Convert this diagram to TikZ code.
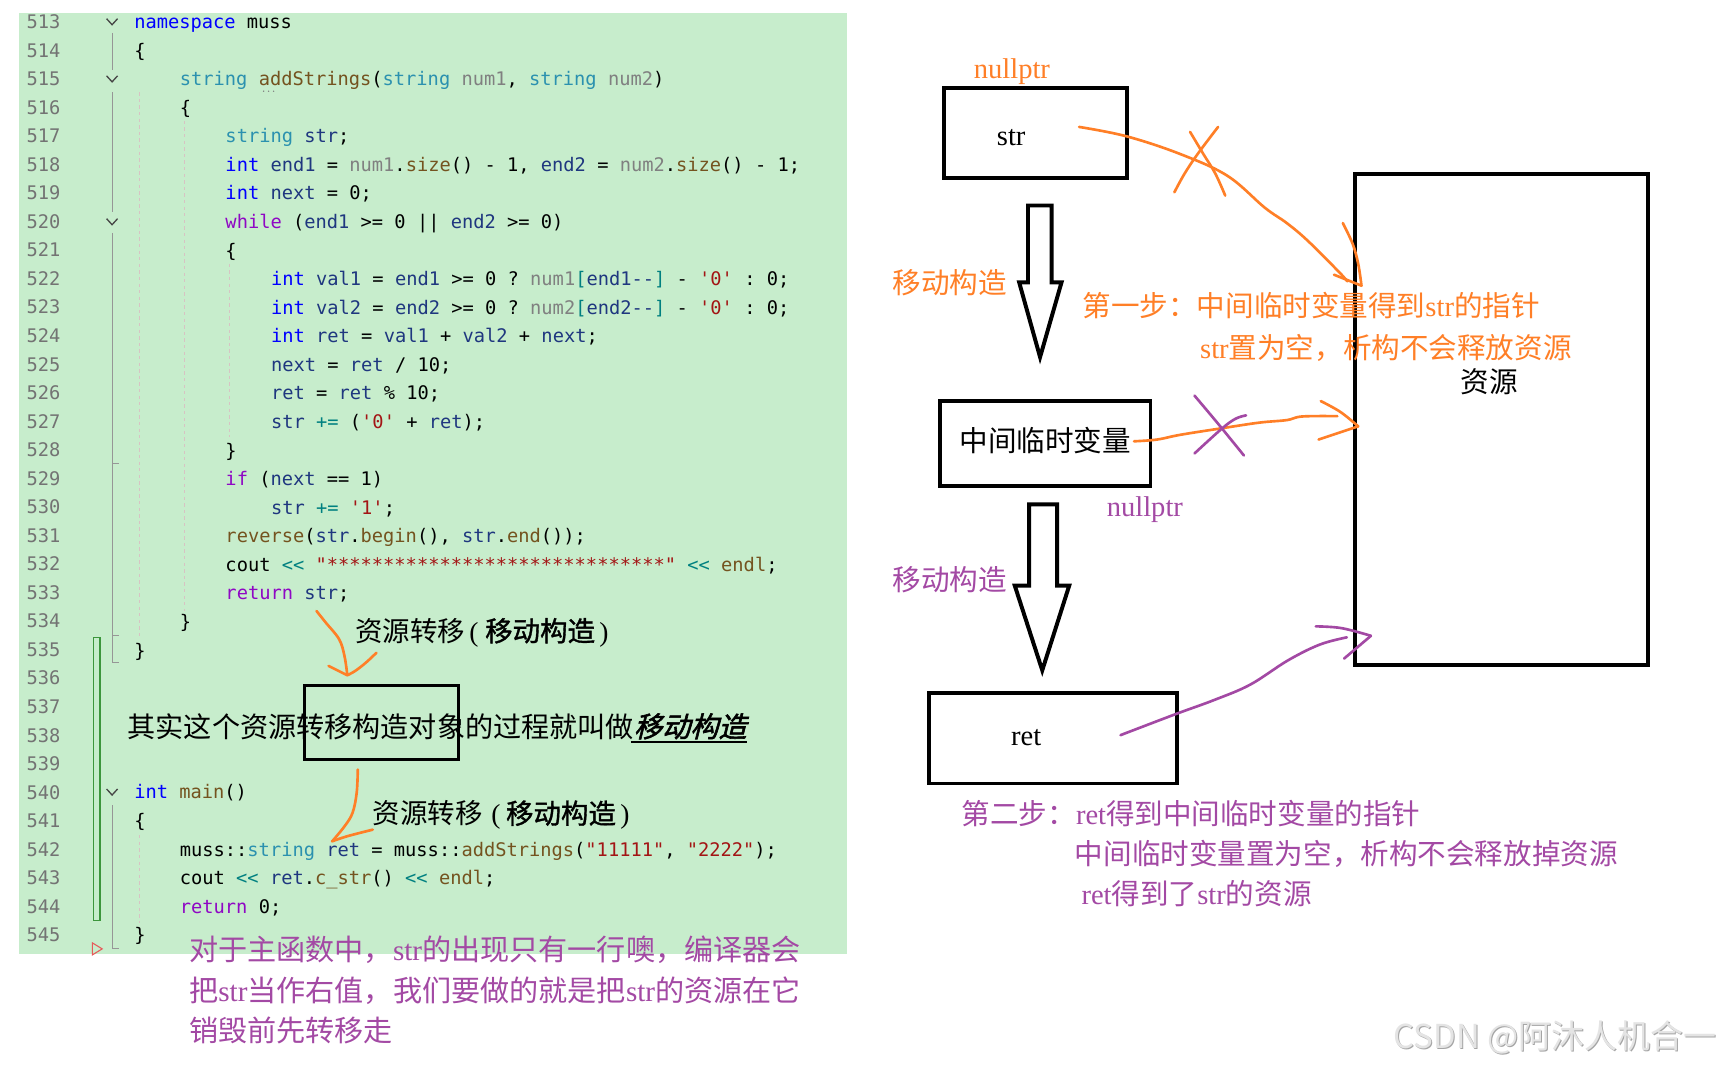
\documentclass[tikz,border=0pt]{standalone}
\usepackage{fontspec}
\setmonofont{DejaVu Sans Mono}
\newfontfamily\cjk{Noto Sans CJK SC}
\newfontfamily\cjkb{Noto Sans CJK SC}[FakeBold=1.3]
\newfontfamily\cjkit{Noto Sans CJK SC}[FakeSlant=0.25,FakeBold=2]
\newfontfamily\tms{Liberation Serif}
\definecolor{bggreen}{RGB}{199,237,204}
\definecolor{orng}{RGB}{255,127,39}
\definecolor{purp}{RGB}{163,73,164}
\definecolor{lngray}{RGB}{115,115,115}
\definecolor{ckwc}{RGB}{0,0,255}
\definecolor{ctyc}{RGB}{43,145,175}
\definecolor{cfnc}{RGB}{116,83,31}
\definecolor{cpac}{RGB}{128,128,128}
\definecolor{cloc}{RGB}{31,55,127}
\definecolor{cctc}{RGB}{143,8,196}
\definecolor{cstc}{RGB}{163,21,21}
\definecolor{copc}{RGB}{0,128,128}
\newcommand\ckw[1]{\textcolor{ckwc}{#1}}
\newcommand\cty[1]{\textcolor{ctyc}{#1}}
\newcommand\cfn[1]{\textcolor{cfnc}{#1}}
\newcommand\cpa[1]{\textcolor{cpac}{#1}}
\newcommand\clo[1]{\textcolor{cloc}{#1}}
\newcommand\cct[1]{\textcolor{cctc}{#1}}
\newcommand\cst[1]{\textcolor{cstc}{#1}}
\newcommand\cop[1]{\textcolor{copc}{#1}}
\newcommand\latn[1]{{\tms #1}}
\begin{document}
\begin{tikzpicture}[x=1pt,y=-1pt,
  code/.style={font=\ttfamily\fontsize{17.03}{20}\selectfont, inner sep=0pt, anchor=base west},
  lnum/.style={code, text=lngray},
  cjkt/.style={font=\cjk\fontsize{26}{30}\selectfont, inner sep=0pt, anchor=base west},
  tmst/.style={font=\tms\fontsize{26}{30}\selectfont, inner sep=0pt, anchor=base west},
  boxn/.style={draw, line width=3.6pt, inner sep=0pt},
  ostroke/.style={draw=orng, line width=2.4pt, line cap=round, line join=round},
  pstroke/.style={draw=purp, line width=2.4pt, line cap=round, line join=round},
  guide/.style={draw={rgb,255:red,150;green,150;blue,150}, line width=1pt},
  dguide/.style={draw={rgb,255:red,215;green,195;blue,195}, line width=0.8pt, dash pattern=on 3pt off 3pt},
  chev/.style={draw={rgb,255:red,70;green,70;blue,70}, line width=1.2pt}
]
\useasboundingbox (0,0) rectangle (1568,970);
\fill[white] (0,0) rectangle (1568,970);
% code panel
\fill[bggreen] (17,12) rectangle (771,868);
\draw[guide] (102.5,30) -- (102.5,64);
\draw[guide] (102.5,84) -- (102.5,193);
\draw[guide] (102.5,212) -- (102.5,603) -- (108,603);
\draw[guide] (102.5,422) -- (108,422);
\draw[guide] (102.5,578) -- (108,578);
\draw[guide] (102.5,733) -- (102.5,863) -- (108,863);
\draw[dguide] (127,84) -- (127,580);
\draw[dguide] (168,110) -- (168,556);
\draw[dguide] (209,240) -- (209,398);
\draw[dguide] (127,760) -- (127,840);
\foreach \yy in {20,72,202,721} \draw[chev] (97,\yy-3) -- (102,\yy+2.5) -- (107,\yy-3);
\draw[draw={rgb,255:red,60;green,150;blue,60}, line width=1pt] (85,580) rectangle (91,838);
\draw[draw={rgb,255:red,230;green,90;blue,90}, line width=1pt] (84,858) -- (93,863.5) -- (84,869) -- cycle;
\foreach \n in {513,...,545} \node[lnum] (ln\n) at (24,{20+(\n-513)*25.97+6}) {\n};
\node[code] (c513) at (122,26) {\ckw{namespace} muss};
\node[code] (c514) at (122,52) {\{};
\node[code] (c515) at (163.5,78) {\cty{string} \cfn{addStrings}(\cty{string} \cpa{num1}, \cty{string} \cpa{num2})};
\foreach \dx in {240,244.5,249} \fill[cpac] (\dx,83) circle (0.7);
\node[code] (c516) at (163.5,104) {\{};
\node[code] (c517) at (205,130) {\cty{string} \clo{str};};
\node[code] (c518) at (205,156) {\ckw{int} \clo{end1} = \cpa{num1}.\cfn{size}() - 1, \clo{end2} = \cpa{num2}.\cfn{size}() - 1;};
\node[code] (c519) at (205,182) {\ckw{int} \clo{next} = 0;};
\node[code] (c520) at (205,208) {\cct{while} (\clo{end1} >= 0 || \clo{end2} >= 0)};
\node[code] (c521) at (205,234) {\{};
\node[code] (c522) at (246.5,260) {\ckw{int} \clo{val1} = \clo{end1} >= 0 ? \cpa{num1}\cop{[}\clo{end1--}\cop{]} - \cst{'0'} : 0;};
\node[code] (c523) at (246.5,286) {\ckw{int} \clo{val2} = \clo{end2} >= 0 ? \cpa{num2}\cop{[}\clo{end2--}\cop{]} - \cst{'0'} : 0;};
\node[code] (c524) at (246.5,312) {\ckw{int} \clo{ret} = \clo{val1} + \clo{val2} + \clo{next};};
\node[code] (c525) at (246.5,338) {\clo{next} = \clo{ret} / 10;};
\node[code] (c526) at (246.5,364) {\clo{ret} = \clo{ret} \% 10;};
\node[code] (c527) at (246.5,390) {\clo{str} \cop{+=} (\cst{'0'} + \clo{ret});};
\node[code] (c528) at (205,416) {\}};
\node[code] (c529) at (205,442) {\cct{if} (\clo{next} == 1)};
\node[code] (c530) at (246.5,468) {\clo{str} \cop{+=} \cst{'1'};};
\node[code] (c531) at (205,494) {\cfn{reverse}(\clo{str}.\cfn{begin}(), \clo{str}.\cfn{end}());};
\node[code] (c532) at (205,520) {cout \cop{<<} \cst{"******************************"} \cop{<<} \cfn{endl};};
\node[code] (c533) at (205,546) {\cct{return} \clo{str};};
\node[code] (c534) at (163.5,572) {\}};
\node[code] (c535) at (122,598) {\}};
\node[code] (c540) at (122,727) {\ckw{int} \cfn{main}()};
\node[code] (c541) at (122,753) {\{};
\node[code] (c542) at (163.5,779) {muss::\cty{string} \clo{ret} = muss::\cfn{addStrings}(\cst{"11111"}, \cst{"2222"});};
\node[code] (c543) at (163.5,805) {cout \cop{<<} \clo{ret}.\cfn{c\_str}() \cop{<<} \cfn{endl};};
\node[code] (c544) at (163.5,831) {\cct{return} 0;};
\node[code] (c545) at (122,857) {\}};
% code annotations
\node[font=\cjk\fontsize{25}{29}\selectfont, inner sep=0pt, anchor=base west] (an1) at (323,583.5) {资源转移\hspace{4pt}\latn{(}\hspace{6pt}{\cjkb 移动构造}\hspace{4pt}\latn{)}};
\node[font=\cjk\fontsize{25.6}{29}\selectfont, inner sep=0pt, anchor=base west] (expl) at (116,670.7) {其实这个资源转移构造对象的过程就叫做{\cjkit 移动构造}};
\draw[line width=2pt] (574,675) -- (680,675);
\node[draw, line width=3pt, minimum width=140, minimum height=67, inner sep=0pt] (codebox) at (347,657.5) {};
\node[font=\cjk\fontsize{25}{29}\selectfont, inner sep=0pt, anchor=base west] (an2) at (339,749.5) {资源转移\hspace{8pt}\latn{(}\hspace{5pt}{\cjkb 移动构造}\hspace{4pt}\latn{)}};
\draw[ostroke] plot[smooth, tension=0.6] coordinates {(288,556) (296.4,566.5) (308.6,581.7) (313.5,597) (316,614)};
\draw[ostroke] (299,606) -- (316,614.5);
\draw[ostroke] plot[smooth, tension=0.6] coordinates {(342.6,594) (333,603) (323.2,610.6) (316,614.5)};
\draw[ostroke] plot[smooth, tension=0.6] coordinates {(325.6,700.3) (324.6,721.5) (320.8,739.8) (313.5,752) (302.3,765.6)};
\draw[ostroke] plot[smooth, tension=0.6] coordinates {(302.3,765.6) (316,761) (339.2,755)};
\node[font=\cjk\fontsize{26.5}{30}\selectfont, text=purp, inner sep=0pt, anchor=base west] (p1) at (172,874) {对于主函数中，\latn{str}的出现只有一行噢，编译器会};
\node[font=\cjk\fontsize{26.5}{30}\selectfont, text=purp, inner sep=0pt, anchor=base west] (p2) at (172,911) {把\latn{str}当作右值，我们要做的就是把\latn{str}的资源在它};
\node[font=\cjk\fontsize{26.5}{30}\selectfont, text=purp, inner sep=0pt, anchor=base west] (p3) at (172,948) {销毁前先转移走};
% right diagram
\node[boxn, minimum width=167, minimum height=82] (strbox) at (942.5,121) {};
\node[boxn, minimum width=192, minimum height=77] (tmpbox) at (951,403.5) {};
\node[boxn, minimum width=226, minimum height=82] (retbox) at (958,672) {};
\node[boxn, minimum width=267, minimum height=447] (resbox) at (1366.5,381.5) {};
\draw[line width=3.6pt, line join=miter] (935.5,187) -- (957,187) -- (957,257) -- (966,257) -- (946.5,325) -- (927.5,257) -- (935.5,257) -- cycle;
\draw[line width=3.6pt, line join=miter] (936.5,459) -- (962,459) -- (962,533) -- (973,533) -- (948.5,610) -- (923.5,533) -- (936.5,533) -- cycle;
\node[tmst, text=orng] (np1) at (886,71) {nullptr};
\node[tmst] (strt) at (907,132) {str};
\node[cjkt, text=orng] (mv1) at (812,267) {移动构造};
\node[cjkt, text=orng] (s1a) at (985,288) {第一步：中间临时变量得到\latn{str}的指针};
\node[cjkt, text=orng] (s1b) at (1092,326) {\latn{str}置为空，析构不会释放资源};
\node[cjkt] (rest) at (1329,357) {资源};
\node[cjkt] (tmpt) at (873,411) {中间临时变量};
\node[tmst, text=purp] (np2) at (1007,470) {nullptr};
\node[cjkt, text=purp] (mv2) at (812,537) {移动构造};
\node[tmst] (rett) at (920,678) {ret};
\node[cjkt, text=purp] (s2a) at (875,750) {第二步：\latn{ret}得到中间临时变量的指针};
\node[cjkt, text=purp] (s2b) at (978,787) {中间临时变量置为空，析构不会释放掉资源};
\node[cjkt, text=purp] (s2c) at (984,823) {\latn{ret}得到了\latn{str}的资源};
% scribbles
\draw[ostroke] plot[smooth, tension=0.6] coordinates {(982,115.5) (1025,124) (1073.6,140) (1117,160) (1151,189) (1171,203) (1190,219) (1219,248) (1226,256)};
\draw[ostroke] plot[smooth, tension=0.6] coordinates {(1222,203) (1231,222) (1236,240) (1239,260)};
\draw[ostroke] (1214,250) -- (1239,260);
\draw[ostroke] plot[smooth, tension=0.6] coordinates {(1108.5,115.5) (1090,140) (1078,158) (1068.7,175)};
\draw[ostroke] plot[smooth, tension=0.6] coordinates {(1083,120) (1095,140) (1106,158) (1115,178)};
\draw[ostroke] plot[smooth, tension=0.6] coordinates {(1032,401.6) (1053,400) (1074,395.7) (1112,389.7) (1146,384.6) (1171,382.3) (1185,379) (1217,378.7)};
\draw[ostroke] plot[smooth, tension=0.6] coordinates {(1202,365) (1220,375) (1236,388)};
\draw[ostroke] (1236,388) -- (1200,400);
\draw[pstroke] plot[smooth, tension=0.6] coordinates {(1087,360) (1108,385) (1132,414.5)};
\draw[pstroke] plot[smooth, tension=0.6] coordinates {(1087,412.7) (1112,390) (1124.5,381) (1134,378)};
\draw[pstroke] plot[smooth, tension=0.6] coordinates {(1019.7,669) (1069.5,650) (1105,637) (1137.8,623) (1172,601) (1201,586.6) (1225.7,580)};
\draw[pstroke] plot[smooth, tension=0.6] coordinates {(1197.4,570) (1220.8,571.6) (1247.6,578.6)};
\draw[pstroke] (1247.6,578.6) -- (1223.2,599.3);
% watermark
\node[font=\cjk\fontsize{30}{34}\selectfont, text={rgb,255:red,165;green,165;blue,165}, inner sep=0pt, anchor=base west] (wms) at (1269,955) {CSDN @阿沐人机合一};
\node[font=\cjk\fontsize{30}{34}\selectfont, text={rgb,255:red,228;green,228;blue,228}, inner sep=0pt, anchor=base west] (wm) at (1268,954) {CSDN @阿沐人机合一};
\end{tikzpicture}
\end{document}
